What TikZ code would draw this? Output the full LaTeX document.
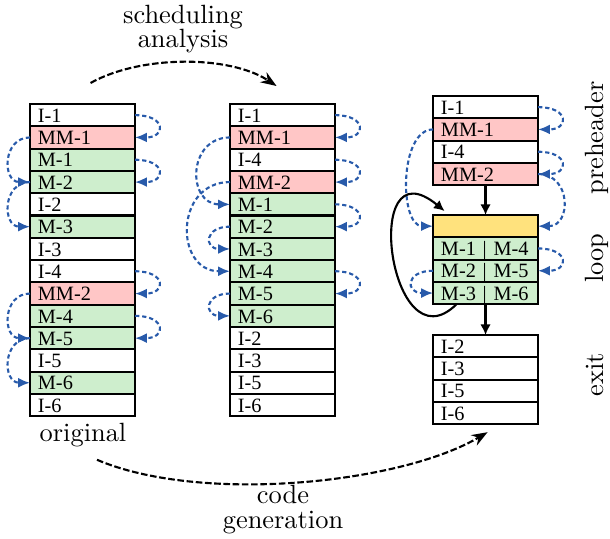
\documentclass[tikz,border=0pt]{standalone}
\usepackage{fontspec}
\newfontfamily\instrfont{Liberation Serif}
\usetikzlibrary{calc,arrows.meta}

\definecolor{mmred}{RGB}{255,198,198}
\definecolor{mgreen}{RGB}{206,238,205}
\definecolor{kernel}{RGB}{255,226,125}
\definecolor{depblue}{RGB}{40,90,170}

\begin{document}
\begin{tikzpicture}
[x=0.3788pt,y=-0.3788pt,
instr/.style={draw,thick,outer sep=0pt,anchor=north west,
  text width=33.8pt,inner xsep=3pt,inner ysep=0pt,
  text height=6.95pt,text depth=1.5pt,align=left,
  font=\instrfont\fontsize{7.7}{8}\selectfont},
dep/.style={depblue,thick,dash pattern=on 1.6pt off 1.1pt,
  -{Latex[length=4.5pt,width=3.8pt]}},
flow/.style={thick,dash pattern=on 2.5pt off 1pt,-{Stealth[length=6pt,width=4.5pt]}},
ctrl/.style={thick,-{Latex[length=4pt,width=4pt]}},
lbl/.style={align=center,font=\fontsize{10}{9.2}\selectfont}]
\useasboundingbox (0,0) rectangle (610,538);

% original order
\foreach \t/\c [count=\i] in {I-1/white,MM-1/mmred,M-1/mgreen,M-2/mgreen,I-2/white,
  M-3/mgreen,I-3/white,I-4/white,MM-2/mmred,M-4/mgreen,M-5/mgreen,I-5/white,M-6/mgreen,I-6/white}
  \node[instr,fill=\c] (o\i) at (30,{104+(\i-1)*22.3}) {\t};

% after scheduling
\foreach \t/\c [count=\i] in {I-1/white,MM-1/mmred,I-4/white,MM-2/mmred,M-1/mgreen,
  M-2/mgreen,M-3/mgreen,M-4/mgreen,M-5/mgreen,M-6/mgreen,I-2/white,I-3/white,I-5/white,I-6/white}
  \node[instr,fill=\c] (s\i) at (230,{104+(\i-1)*22.3}) {\t};

% generated code
\foreach \t/\c [count=\i] in {I-1/white,MM-1/mmred,I-4/white,MM-2/mmred}
  \node[instr,fill=\c] (pre\i) at (433,{96+(\i-1)*22.3}) {\t};
\foreach \t/\c [count=\i] in {{}/kernel,M-1 | M-4/mgreen,M-2 | M-5/mgreen,M-3 | M-6/mgreen}
  \node[instr,fill=\c] (lp\i) at (433,{215+(\i-1)*22.3}) {\t};
\foreach \t [count=\i] in {I-2,I-3,I-5,I-6}
  \node[instr] (ex\i) at (433,{335+(\i-1)*22.3}) {\t};

% dependences
\foreach \a/\b in {1/2,3/4,8/9,10/11}
  \draw[dep] (o\a.east) to[out=0,in=0,looseness=3.6] (o\b.east);
\foreach \a/\b in {2/4,4/6,9/11,11/13}
  \draw[dep] (o\a.west) to[out=180,in=180,looseness=1.6] (o\b.west);
\foreach \a/\b in {1/2,3/4,5/6,8/9}
  \draw[dep] (s\a.east) to[out=0,in=0,looseness=3.6] (s\b.east);
\foreach \a/\b/\l in {2/5/1.65,4/8/1.6,6/7/3,9/10/3}
  \draw[dep] (s\a.west) to[out=180,in=180,looseness=\l] (s\b.west);
\draw[dep] (pre1.east) to[out=0,in=0,looseness=3.6] (pre2.east);
\draw[dep] (pre3.east) to[out=0,in=0,looseness=3.6] (pre4.east);
\draw[dep] (pre4.east) to[out=0,in=0,looseness=1.65] (lp1.east);
\draw[dep] (lp2.east) to[out=0,in=0,looseness=3.6] (lp3.east);
\draw[dep] (pre2.west) to[out=180,in=180,looseness=0.9] (lp1.west);
\draw[dep] (lp3.west) to[out=180,in=180,looseness=3.2] (lp4.west);

% control flow
\draw[ctrl] (pre4.south) -- (lp1.north);
\draw[ctrl] (lp4.south) -- (ex1.north);
\draw[ctrl] ($(lp4.south)+(-29,0)$) .. controls +(-67,66) and +(-85,-70) .. ($(lp1.north)+(-41,-4)$);

% labels
\node[lbl,anchor=base] (sched) at (183,48) {scheduling\\analysis};
\node[anchor=base] (orig) at (83,441) {original};
\node[lbl,anchor=base] (codegen) at (283,528) {code\\generation};
\node[rotate=90,anchor=base] (lpre) at (603,138) {preheader};
\node[rotate=90,anchor=base] (lloop) at (603,258) {loop};
\node[rotate=90,anchor=base] (lexit) at (603,375) {exit};

\draw[flow] ($(o1.north)+(8,-21)$) .. controls +(50,-28) and +(-47,-31) .. ($(s1.north)+(-6,-18)$);
\draw[flow] ($(orig.south)+(14,4)$) .. controls +(103,44) and +(-88,52) .. ($(ex4.south)+(2,8)$);
\end{tikzpicture}
\end{document}
